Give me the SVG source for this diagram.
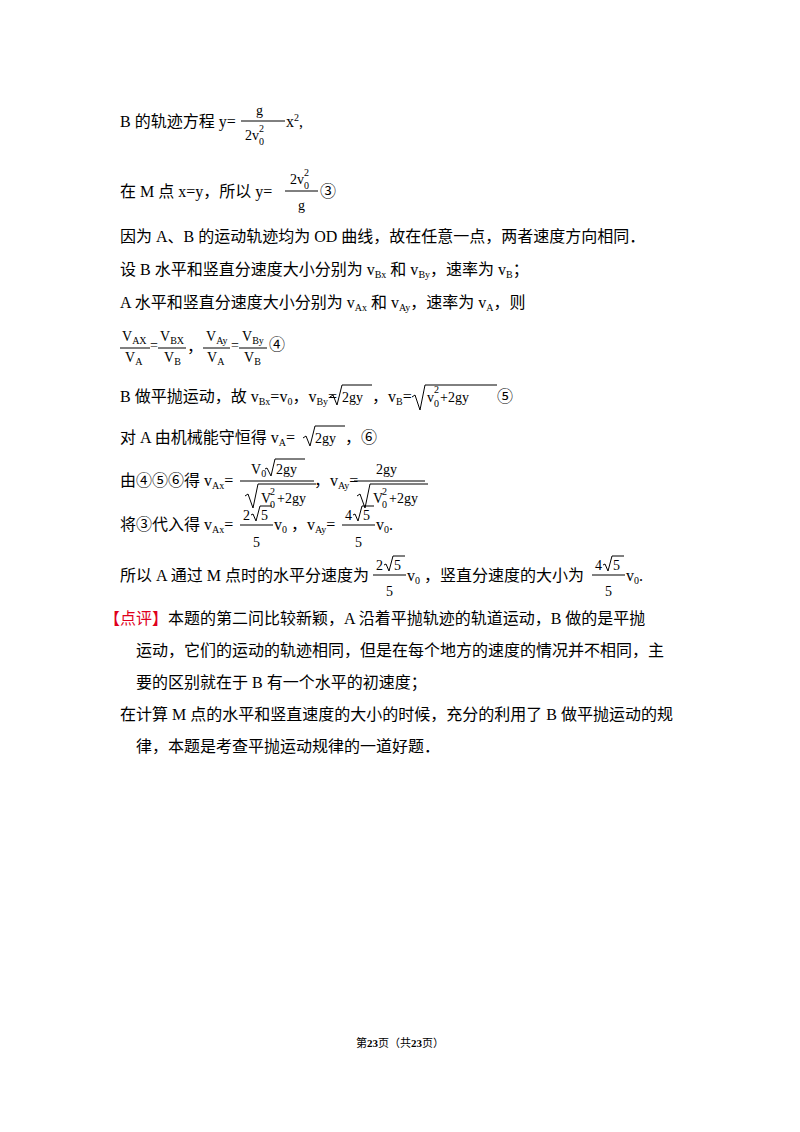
<svg xmlns="http://www.w3.org/2000/svg" width="800" height="1132" viewBox="0 0 800 1132">
<style>
text{font-family:"Liberation Serif","Noto Sans CJK SC",serif;font-size:16px;fill:#000}
.m{font-size:14px}
.s{font-size:10px}
.bar{stroke:#000;stroke-width:1}
.r{fill:none;stroke:#000;stroke-width:1}
.red{fill:#e0001b}
.f{font-size:11px}
</style>
<rect width="800" height="1132" fill="#fff"/>
<g id="body">
<text x="120" y="127">B 的轨迹方程  y=</text>
<text class="m" x="256" y="115">g</text>
<line class="bar" x1="241" y1="121" x2="285" y2="121"/>
<text class="m" x="245" y="140">2v</text><text class="s" x="259" y="132">2</text><text class="s" x="259" y="145">0</text>
<text x="286" y="127">x<tspan class="s" dy="-6">2</tspan><tspan dy="6">,</tspan></text>

<text x="120" y="197">在 M 点 x=y，所以    y=</text>
<text class="m" x="290" y="184">2v</text><text class="s" x="304" y="176">2</text><text class="s" x="304" y="189">0</text>
<line class="bar" x1="285" y1="191" x2="318" y2="191"/>
<text class="m" x="298" y="210">g</text>
<text x="320" y="197">③</text>

<text x="120" y="242">因为 A、B 的运动轨迹均为 OD 曲线，故在任意一点，两者速度方向相同．</text>
<text x="120" y="275">设 B 水平和竖直分速度大小分别为 v<tspan class="s" dy="3">Bx</tspan><tspan dy="-3"> 和 v</tspan><tspan class="s" dy="3">By</tspan><tspan dy="-3">，速率为 v</tspan><tspan class="s" dy="3">B</tspan><tspan dy="-3">；</tspan></text>
<text x="120" y="308">A 水平和竖直分速度大小分别为 v<tspan class="s" dy="3">Ax</tspan><tspan dy="-3"> 和 v</tspan><tspan class="s" dy="3">Ay</tspan><tspan dy="-3">，速率为 v</tspan><tspan class="s" dy="3">A</tspan><tspan dy="-3">，则</tspan></text>

<text class="m" x="122" y="341">V<tspan class="s" dy="3">AX</tspan></text>
<line class="bar" x1="120" y1="348" x2="150" y2="348"/>
<text class="m" x="125" y="362">V<tspan class="s" dy="3">A</tspan></text>
<text class="m" x="150" y="350">=</text>
<text class="m" x="160" y="341">V<tspan class="s" dy="3">BX</tspan></text>
<line class="bar" x1="158" y1="348" x2="186" y2="348"/>
<text class="m" x="164" y="362">V<tspan class="s" dy="3">B</tspan></text>
<text x="187" y="352">，</text>
<text class="m" x="206" y="341">V<tspan class="s" dy="3">Ay</tspan></text>
<line class="bar" x1="203" y1="348" x2="230" y2="348"/>
<text class="m" x="207" y="362">V<tspan class="s" dy="3">A</tspan></text>
<text class="m" x="231" y="350">=</text>
<text class="m" x="242" y="341">V<tspan class="s" dy="3">By</tspan></text>
<line class="bar" x1="239" y1="348" x2="267" y2="348"/>
<text class="m" x="244" y="362">V<tspan class="s" dy="3">B</tspan></text>
<text x="269" y="350">④</text>

<text x="120" y="402">B 做平抛运动，故 v<tspan class="s" dy="3">Bx</tspan><tspan dy="-3">=v</tspan><tspan class="s" dy="3">0</tspan><tspan dy="-3">，v</tspan><tspan class="s" dy="3">By</tspan><tspan dy="-3">=</tspan></text>
<path class="r" d="M330,397 l3,-2 l4,10 l5,-20 h30"/>
<text class="m" x="342" y="402">2gy</text>
<text x="372" y="402">，v<tspan class="s" dy="3">B</tspan><tspan dy="-3">=</tspan></text>
<path class="r" d="M412,397 l3,-2 l5,15 l5,-25 h72"/>
<text class="m" x="427" y="402">v</text><text class="s" x="434" y="393">2</text><text class="s" x="434" y="407">0</text>
<text class="m" x="440" y="402">+2gy</text>
<text x="497" y="402">⑤</text>

<text x="120" y="443">对 A 由机械能守恒得 v<tspan class="s" dy="3">A</tspan><tspan dy="-3">=</tspan></text>
<path class="r" d="M303,438 l3,-2 l4,10 l5,-20 h30"/>
<text class="m" x="315" y="443">2gy</text>
<text x="345" y="443">，⑥</text>

<text x="120" y="486">由④⑤⑥得 v<tspan class="s" dy="3">Ax</tspan><tspan dy="-3">=</tspan></text>
<text class="m" x="251" y="474">V<tspan class="s" dy="3">0</tspan></text>
<path class="r" d="M265,469 l2,-1 l4,8 l4,-17 h30"/>
<text class="m" x="276" y="474">2gy</text>
<line class="bar" x1="240" y1="481" x2="314" y2="481"/>
<path class="r" d="M245,496 l3,-2 l5,14 l5,-24 h58"/>
<text class="m" x="261" y="503">V</text><text class="s" x="270" y="495">2</text><text class="s" x="270" y="508">0</text>
<text class="m" x="277" y="503">+2gy</text>
<text x="314" y="486">，v<tspan class="s" dy="3">Ay</tspan><tspan dy="-3">=</tspan></text>
<text class="m" x="376" y="474">2gy</text>
<line class="bar" x1="354" y1="481" x2="425" y2="481"/>
<path class="r" d="M357,496 l3,-2 l5,14 l5,-24 h58"/>
<text class="m" x="373" y="503">V</text><text class="s" x="382" y="495">2</text><text class="s" x="382" y="508">0</text>
<text class="m" x="389" y="503">+2gy</text>

<text x="120" y="530">将③代入得  v<tspan class="s" dy="3">Ax</tspan><tspan dy="-3">=</tspan></text>
<text class="m" x="243" y="520">2</text>
<path class="r" d="M251,515 l2,-1 l3,7 l4,-15 h12"/>
<text class="m" x="261" y="520">5</text>
<line class="bar" x1="240" y1="525" x2="273" y2="525"/>
<text class="m" x="253" y="547">5</text>
<text x="274" y="530">v<tspan class="s" dy="3">0</tspan><tspan dy="-3"> ，v</tspan><tspan class="s" dy="3">Ay</tspan><tspan dy="-3">=</tspan></text>
<text class="m" x="345" y="520">4</text>
<path class="r" d="M353,515 l2,-1 l3,7 l4,-15 h12"/>
<text class="m" x="363" y="520">5</text>
<line class="bar" x1="342" y1="525" x2="375" y2="525"/>
<text class="m" x="355" y="547">5</text>
<text x="376" y="530">v<tspan class="s" dy="3">0</tspan><tspan dy="-3">.</tspan></text>

<text x="120" y="581">所以 A 通过 M 点时的水平分速度为</text>
<text class="m" x="376" y="570">2</text>
<path class="r" d="M384,565 l2,-1 l3,7 l4,-15 h12"/>
<text class="m" x="394" y="570">5</text>
<line class="bar" x1="373" y1="575" x2="406" y2="575"/>
<text class="m" x="386" y="596">5</text>
<text x="407" y="581">v<tspan class="s" dy="3">0</tspan><tspan dy="-3"> ，竖直分速度的大小为</tspan></text>
<text class="m" x="595" y="570">4</text>
<path class="r" d="M603,565 l2,-1 l3,7 l4,-15 h12"/>
<text class="m" x="613" y="570">5</text>
<line class="bar" x1="592" y1="575" x2="625" y2="575"/>
<text class="m" x="605" y="596">5</text>
<text x="626" y="581">v<tspan class="s" dy="3">0</tspan><tspan dy="-3">.</tspan></text>

<text x="104" y="624"><tspan class="red">【点评】</tspan>本题的第二问比较新颖，A 沿着平抛轨迹的轨道运动，B 做的是平抛</text>
<text x="136" y="656">运动，它们的运动的轨迹相同，但是在每个地方的速度的情况并不相同，主</text>
<text x="136" y="688">要的区别就在于 B 有一个水平的初速度；</text>
<text x="120" y="720">在计算 M 点的水平和竖直速度的大小的时候，充分的利用了 B 做平抛运动的规</text>
<text x="136" y="752">律，本题是考查平抛运动规律的一道好题．</text>
</g>
<text class="f" x="400" y="1047" text-anchor="middle">第<tspan font-weight="bold">23</tspan>页（共<tspan font-weight="bold">23</tspan>页）</text>
</svg>
